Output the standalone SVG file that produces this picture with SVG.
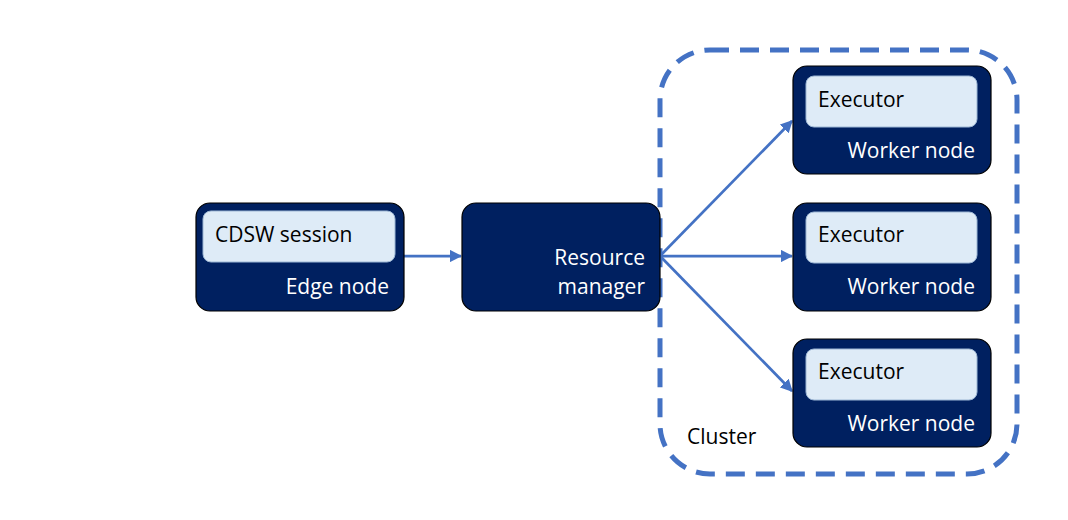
<svg xmlns="http://www.w3.org/2000/svg" width="1068" height="520" viewBox="0 0 1068 520">
<defs>
<style>
.outer{fill:#002060;stroke:#000;stroke-width:1.2}
.inner{fill:#DEEBF7;stroke:#9DB7D5;stroke-width:1}
.dark{font-family:"Open Sans","Noto Sans",sans-serif;font-size:21px;fill:#000}
.light{font-family:"Open Sans","Noto Sans",sans-serif;font-size:21px;fill:#fff;text-anchor:end}
.conn{stroke:#4472C4;stroke-width:2.75;fill:none;marker-end:url(#ah)}
</style>
<marker id="ah" viewBox="0 0 10 10" refX="9" refY="5" markerWidth="4.5" markerHeight="4.5" orient="auto" markerUnits="strokeWidth">
<path d="M0,0 L10,5 L0,10 z" fill="#4472C4"/>
</marker>
</defs>
<rect width="1068" height="520" fill="#fff"/>
<g id="cluster">
<rect x="660" y="50" width="357" height="424" rx="50" fill="none" stroke="#4472C4" stroke-width="5" stroke-dasharray="19 11"/>
<text class="dark" x="687" y="444">Cluster</text>
</g>
<g id="connectors">
<line class="conn" x1="404" y1="256" x2="461" y2="256"/>
<line class="conn" x1="660" y1="256" x2="792" y2="121"/>
<line class="conn" x1="660" y1="256" x2="792" y2="256"/>
<line class="conn" x1="660" y1="256" x2="792" y2="391"/>
</g>
<g id="edge-node">
<rect class="outer" x="196" y="203" width="208" height="108" rx="14"/>
<rect class="inner" x="203" y="211" width="192" height="51" rx="8"/>
<text class="dark" x="215" y="242">CDSW session</text>
<text class="light" x="389" y="294">Edge node</text>
</g>
<g id="resource-manager">
<rect class="outer" x="462" y="203" width="198" height="108" rx="14"/>
<text class="light" x="645" y="265">Resource</text>
<text class="light" x="645" y="294">manager</text>
</g>
<g id="worker-1">
<rect class="outer" x="793" y="66" width="198" height="108" rx="14"/>
<rect class="inner" x="806" y="76" width="171" height="51" rx="8"/>
<text class="dark" x="818" y="107">Executor</text>
<text class="light" x="975" y="158">Worker node</text>
</g>
<g id="worker-2">
<rect class="outer" x="793" y="203" width="198" height="108" rx="14"/>
<rect class="inner" x="806" y="212" width="171" height="51" rx="8"/>
<text class="dark" x="818" y="242">Executor</text>
<text class="light" x="975" y="294">Worker node</text>
</g>
<g id="worker-3">
<rect class="outer" x="793" y="339" width="198" height="108" rx="14"/>
<rect class="inner" x="806" y="349" width="171" height="51" rx="8"/>
<text class="dark" x="818" y="379">Executor</text>
<text class="light" x="975" y="431">Worker node</text>
</g>
</svg>
